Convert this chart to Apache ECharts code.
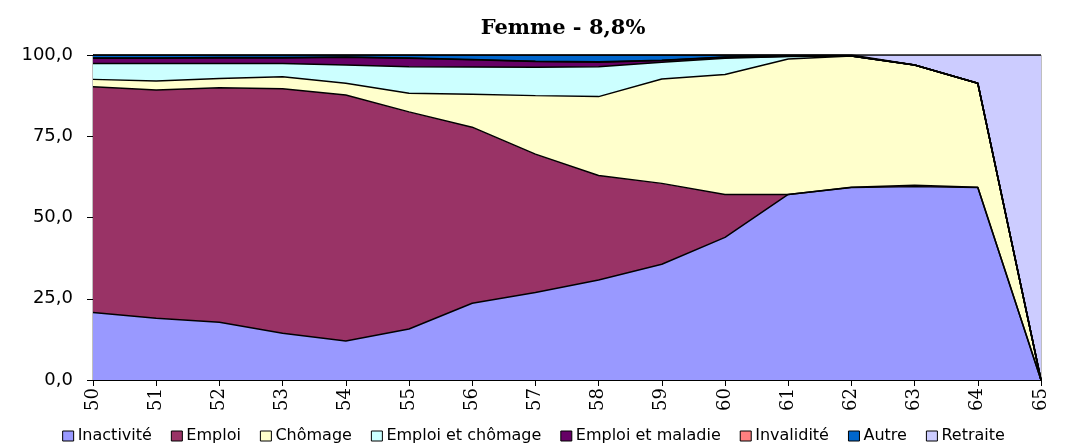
<!DOCTYPE html>
<html>
<head>
<meta charset="utf-8">
<script src="https://cdn.jsdelivr.net/npm/echarts@6/dist/echarts.min.js"></script>
<style>
html,body{margin:0;padding:0;background:#fff;}
#chart{width:1067px;height:444px;}
</style>
</head>
<body>
<div id="chart"></div>
<script>
const categories = ['50','51','52','53','54','55','56','57','58','59','60','61','62','63','64','65'];
const yTicks = [0, 25, 50, 75, 100];
const inactivite = [20.8, 19.0, 17.8, 14.4, 12.0, 15.7, 23.6, 26.9, 30.8, 35.6, 43.9, 57.1, 59.2, 59.5, 59.2, 0];
const emploi = [69.4, 70.2, 72.1, 75.2, 75.7, 66.8, 54.2, 42.6, 32.1, 24.9, 13.2, 0.0, 0.1, 0.4, 0.1, 0];
const chomage = [2.3, 2.8, 2.9, 3.7, 3.6, 5.7, 10.1, 18.0, 24.3, 32.1, 36.9, 41.7, 40.4, 37.0, 32.0, 0];
const emploiChomage = [4.9, 5.4, 4.6, 4.1, 5.6, 8.2, 8.4, 8.7, 9.2, 5.2, 5.0, 0.7, 0, 0, 0, 0];
const emploiMaladie = [1.6, 1.6, 1.7, 1.7, 2.4, 2.6, 2.2, 1.8, 1.4, 0.5, 0.3, 0.1, 0, 0, 0, 0];
const invalidite = [0.1, 0.1, 0.1, 0.1, 0.1, 0.1, 0.1, 0.1, 0.1, 0.1, 0.1, 0, 0, 0, 0, 0];
const autre = [0.9, 0.9, 0.8, 0.8, 0.6, 0.9, 1.4, 1.9, 2.1, 1.6, 0.6, 0.4, 0.3, 0, 0, 0];
const retraite = [0, 0, 0, 0, 0, 0, 0, 0, 0, 0, 0, 0, 0, 3.1, 8.7, 100];

const seriesDefs = [
  ['Inactivité', inactivite, '#9999FF'],
  ['Emploi', emploi, '#993366'],
  ['Chômage', chomage, '#FFFFCC'],
  ['Emploi et chômage', emploiChomage, '#CCFFFF'],
  ['Emploi et maladie', emploiMaladie, '#660066'],
  ['Invalidité', invalidite, '#FF8080'],
  ['Autre', autre, '#0066CC'],
  ['Retraite', retraite, '#CCCCFF']
];

const chart = echarts.init(document.getElementById('chart'), null, {renderer:'canvas'});
chart.setOption({
  animation: false,
  backgroundColor: '#fff',
  title: {
    text: 'Femme - 8,8%',
    left: 558, top: 13, textAlign: 'center',
    textStyle: {fontFamily: '"DejaVu Serif", serif', fontWeight: 'bold', fontSize: 21, color: '#000'}
  },
  legend: {
    bottom: -5, left: 'center',
    itemWidth: 11, itemHeight: 10, itemGap: 19,
    icon: 'rect',
    itemStyle: {borderColor: '#000', borderWidth: 1},
    textStyle: {fontFamily: '"DejaVu Sans", sans-serif', fontSize: 16, color: '#000', padding: [0,0,0,-1]},
    data: seriesDefs.map(d => d[0])
  },
  grid: {
    left: 93, right: 26, top: 55, bottom: 64,
    show: true, borderColor: '#808080', borderWidth: 1, backgroundColor: 'transparent'
  },
  xAxis: {
    type: 'category', data: categories, boundaryGap: false,
    axisLine: {lineStyle: {color: '#000', width: 1}},
    axisTick: {show: true, length: 6, lineStyle: {color: '#000'}},
    axisLabel: {rotate: 90, margin: 8, fontFamily: '"DejaVu Serif", serif', fontSize: 18, color: '#000'}
  },
  yAxis: {
    type: 'value', min: yTicks[0], max: yTicks[yTicks.length-1], interval: 25,
    axisLine: {show: true, lineStyle: {color: '#000', width: 1}},
    axisTick: {show: true, length: 6, lineStyle: {color: '#000'}},
    splitLine: {show: false},
    axisLabel: {
      margin: 20, fontFamily: '"DejaVu Sans", sans-serif', fontSize: 18, color: '#000',
      formatter: v => v.toFixed(1).replace('.', ',')
    }
  },
  series: seriesDefs.map(d => ({
    name: d[0], type: 'line', stack: 'total', data: d[1],
    showSymbol: false, symbol: 'none',
    itemStyle: {color: d[2]},
    lineStyle: {color: '#000', width: 1.5},
    areaStyle: {color: d[2], opacity: 1}
  }))
});
</script>
</body>
</html>
